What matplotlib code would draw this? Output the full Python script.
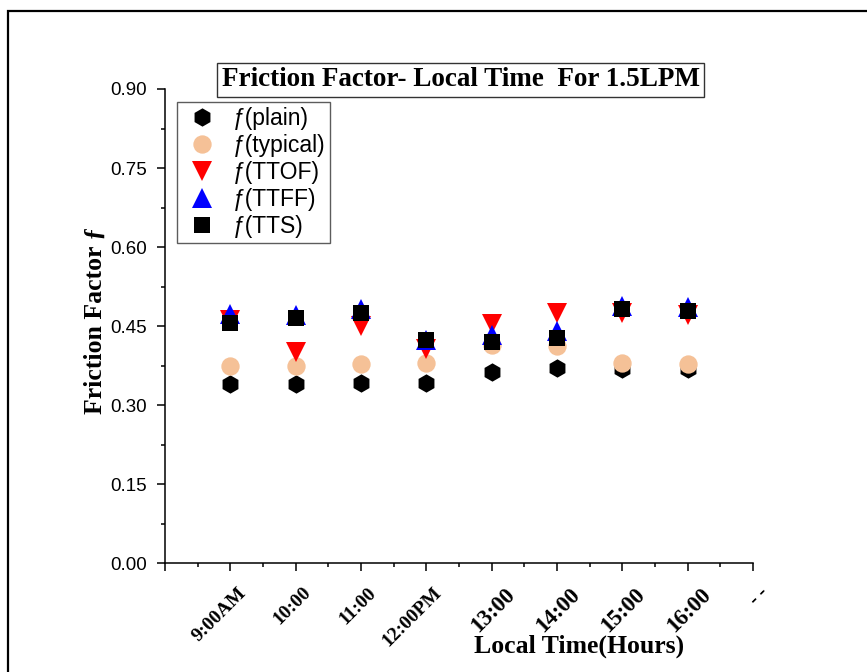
import matplotlib
matplotlib.use("Agg")
import matplotlib.pyplot as plt
from matplotlib.patches import Rectangle
from matplotlib.transforms import ScaledTranslation
from matplotlib.ticker import MultipleLocator, FixedLocator, FixedFormatter

# Hourly friction factor readings at 1.5 LPM
times = ["9:00AM", "10:00", "11:00", "12:00PM", "13:00", "14:00", "15:00", "16:00"]
f_plain = [0.341, 0.341, 0.343, 0.342, 0.364, 0.371, 0.369, 0.368]
f_typical = [0.375, 0.375, 0.379, 0.381, 0.415, 0.413, 0.380, 0.379]
f_ttof = [0.462, 0.402, 0.450, 0.406, 0.455, 0.476, 0.475, 0.471]
f_ttff = [0.474, 0.471, 0.483, 0.423, 0.433, 0.441, 0.488, 0.486]
f_tts = [0.456, 0.466, 0.476, 0.423, 0.420, 0.427, 0.483, 0.479]
tick_labels = [""] + times + ["- -"]
y_ticks = [0.00, 0.15, 0.30, 0.45, 0.60, 0.75, 0.90]

serif = "Liberation Serif"
sans = "Liberation Sans"

fig = plt.figure(figsize=(8.67, 6.72), dpi=100)
ax = fig.add_axes([0.1903, 0.1615, 0.6782, 0.7061])

x = list(range(1, len(times) + 1))
series = [
    (f_plain, "h", "black", 13.2, "\u0192(plain)"),
    (f_typical, "o", "#F5C197", 13.2, "\u0192(typical)"),
    (f_ttof, "v", "#FF0000", 13.9, "\u0192(TTOF)"),
    (f_ttff, "^", "#0000FF", 13.9, "\u0192(TTFF)"),
    (f_tts, "s", "black", 12.0, "\u0192(TTS)"),
]
for vals, mk, col, ms, lab in series:
    ax.plot(x, vals, linestyle="none", marker=mk, color=col,
            markersize=ms, markeredgewidth=0, label=lab, clip_on=False)

ax.set_xlim(0, len(times) + 1)
ax.set_ylim(0, 0.90)

for side in ("top", "right"):
    ax.spines[side].set_visible(False)
for side in ("left", "bottom"):
    ax.spines[side].set_linewidth(1.1)

ax.xaxis.set_major_locator(FixedLocator(range(len(tick_labels))))
ax.xaxis.set_major_formatter(FixedFormatter(tick_labels))
ax.xaxis.set_minor_locator(MultipleLocator(0.5))
ax.yaxis.set_major_locator(FixedLocator(y_ticks))
ax.yaxis.set_minor_locator(MultipleLocator(0.075))
ax.yaxis.set_major_formatter(plt.FuncFormatter(lambda v, p: f"{v:.2f}"))

ax.tick_params(which="major", direction="out", length=5.8, width=1.1)
ax.tick_params(which="minor", direction="out", length=3.1, width=1.1)
ax.tick_params(axis="y", which="major", pad=7, labelsize=13.5)
ax.tick_params(axis="x", which="major", pad=9)

for lbl in ax.get_yticklabels():
    lbl.set_fontfamily(sans)

# afternoon labels are set a little larger than the morning ones
for i, lbl in enumerate(ax.get_xticklabels()):
    big = 5 <= i <= 8
    lbl.set_fontfamily(serif)
    lbl.set_fontweight("bold")
    lbl.set_fontsize(16.5 if big else 14)
    lbl.set_rotation(45)
    lbl.set_ha("right")
    lbl.set_va("top")
    lbl.set_rotation_mode("anchor")
    dx = (9 if big else 5) / 72
    lbl.set_transform(lbl.get_transform() +
                      ScaledTranslation(dx, 0, fig.dpi_scale_trans))

ax.set_xlabel("Local Time(Hours)", fontfamily=serif, fontweight="bold", fontsize=18.5)
ax.xaxis.set_label_coords(0.704, -0.15)
ax.set_ylabel("Friction Factor \u0192", fontfamily=serif, fontweight="bold", fontsize=18.5)
ax.yaxis.set_label_coords(-0.0986, 0.513)

ax.text(0.503, 1.019, "Friction Factor- Local Time  For 1.5LPM",
        transform=ax.transAxes, ha="center", va="center",
        fontfamily=serif, fontweight="bold", fontsize=19.5,
        bbox=dict(boxstyle="square,pad=0.17", facecolor="white",
                  edgecolor="#333333", linewidth=1.0))

leg = ax.legend(loc="upper left", bbox_to_anchor=(0.0204, 0.9726),
                borderaxespad=0, frameon=True, fancybox=False,
                prop={"family": sans, "size": 16.5}, handlelength=1.75,
                handletextpad=0.49, labelspacing=0.18, borderpad=0.2)
leg.get_frame().set_edgecolor("#333333")
leg.get_frame().set_linewidth(1.0)

# outer frame running off the right and bottom edges
fig.add_artist(Rectangle((8 / 867, -0.1), 1.2, (672 - 11) / 672 + 0.1,
                         transform=fig.transFigure, fill=False,
                         edgecolor="black", linewidth=1.6, clip_on=False))

fig.savefig("out.png", dpi=100)
